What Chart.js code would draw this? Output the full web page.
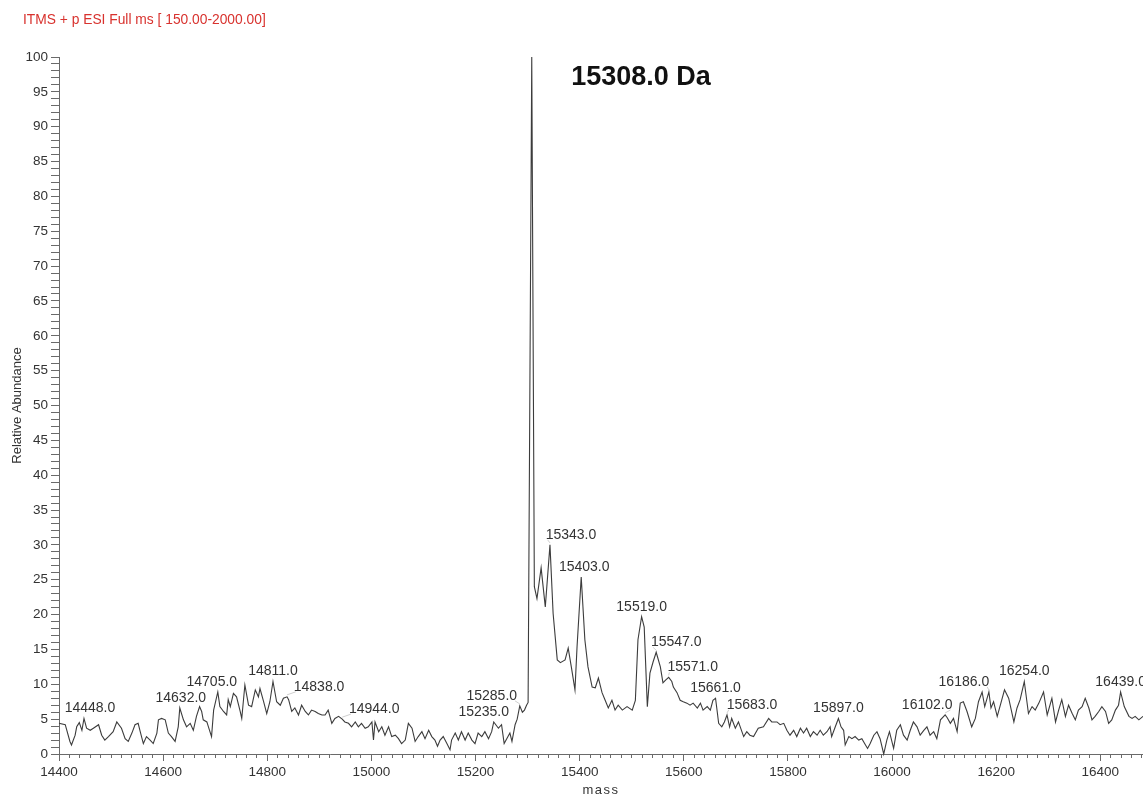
<!DOCTYPE html>
<html>
<head>
<meta charset="utf-8">
<title>Deconvoluted ESI mass spectrum</title>
<script src="https://cdn.jsdelivr.net/npm/chart.js@4/dist/chart.umd.min.js"></script>
<style>
  html, body { margin: 0; padding: 0; background: #ffffff; }
  canvas { display: block; }
</style>
</head>
<body>
<canvas id="spectrum" width="1143" height="797"></canvas>
<script>
// Deconvoluted spectrum: mass (Da) and relative abundance (%)
const massAxis = [
  14400, 14412, 14421, 14424, 14431, 14434, 14439, 14444, 14448, 14453,
  14460, 14466, 14476, 14482, 14488, 14495, 14504, 14511, 14520, 14527,
  14533, 14540, 14546, 14552, 14556, 14562, 14568, 14575, 14581, 14588,
  14591, 14597, 14604, 14610, 14616, 14623, 14629, 14632, 14639, 14645,
  14652, 14658, 14664, 14670, 14674, 14677, 14684, 14687, 14693, 14697,
  14705, 14709, 14716, 14722, 14725, 14729, 14735, 14741, 14748, 14751,
  14757, 14764, 14770, 14777, 14783, 14786, 14793, 14799, 14805, 14811,
  14818, 14825, 14831, 14838, 14841, 14847, 14853, 14860, 14866, 14873,
  14879, 14885, 14892, 14898, 14905, 14911, 14917, 14924, 14930, 14937,
  14944, 14949, 14956, 14962, 14969, 14975, 14981, 14988, 14994, 15001,
  15004, 15007, 15014, 15020, 15026, 15033, 15039, 15046, 15052, 15058,
  15065, 15071, 15078, 15084, 15090, 15097, 15103, 15110, 15116, 15122,
  15127, 15132, 15138, 15145, 15151, 15154, 15161, 15167, 15173, 15180,
  15186, 15193, 15199, 15205, 15212, 15218, 15225, 15231, 15235, 15244,
  15250, 15255, 15260, 15266, 15270, 15276, 15280, 15285, 15290, 15294,
  15298, 15301, 15308, 15313, 15318, 15326, 15334, 15343, 15349, 15357,
  15363, 15372, 15378, 15384, 15391, 15395, 15403, 15410, 15416, 15424,
  15430, 15436, 15443, 15449, 15455, 15462, 15468, 15474, 15482, 15491,
  15501, 15507, 15512, 15519, 15524, 15530, 15535, 15541, 15547, 15555,
  15560, 15565, 15571, 15577, 15580, 15587, 15593, 15599, 15606, 15612,
  15618, 15626, 15632, 15637, 15645, 15651, 15656, 15661, 15667, 15673,
  15678, 15683, 15688, 15692, 15699, 15705, 15715, 15721, 15727, 15734,
  15743, 15753, 15763, 15769, 15779, 15785, 15792, 15798, 15804, 15811,
  15817, 15824, 15830, 15836, 15843, 15849, 15856, 15862, 15868, 15875,
  15881, 15884, 15891, 15897, 15902, 15907, 15910, 15917, 15923, 15929,
  15936, 15942, 15949, 15953, 15958, 15965, 15971, 15977, 15984, 15990,
  15995, 16003, 16009, 16016, 16022, 16029, 16035, 16041, 16048, 16054,
  16061, 16067, 16073, 16080, 16086, 16093, 16102, 16106, 16112, 16118,
  16125, 16131, 16137, 16144, 16153, 16160, 16166, 16173, 16178, 16186,
  16190, 16195, 16202, 16208, 16216, 16224, 16234, 16240, 16246, 16254,
  16262, 16269, 16275, 16282, 16291, 16298, 16307, 16314, 16320, 16326,
  16333, 16339, 16346, 16352, 16358, 16365, 16371, 16378, 16384, 16390,
  16397, 16403, 16410, 16416, 16422, 16429, 16435, 16439, 16446, 16455,
  16461, 16467, 16474, 16482
];

const abundance = [
  4.4, 4.2, 1.8, 1.3, 2.7, 3.9, 4.5, 3.4, 5.1, 3.7,
  3.4, 3.7, 4.2, 2.7, 2.0, 2.5, 3.2, 4.6, 3.7, 2.2,
  1.8, 3.0, 4.2, 4.4, 3.2, 1.5, 2.5, 2.0, 1.5, 3.0,
  4.9, 5.1, 4.9, 3.0, 2.5, 1.8, 3.9, 6.6, 4.9, 3.9,
  4.4, 3.4, 5.4, 6.8, 6.1, 4.9, 4.6, 3.9, 2.5, 6.3,
  8.9, 6.8, 6.1, 5.6, 7.8, 6.8, 8.7, 8.2, 6.1, 5.1,
  9.9, 7.0, 6.8, 9.2, 8.2, 9.4, 7.5, 5.8, 7.5, 10.4,
  7.5, 7.0, 8.0, 8.2, 7.8, 6.1, 6.6, 5.6, 7.0, 6.1,
  5.6, 6.3, 6.1, 5.8, 5.6, 5.6, 6.3, 4.4, 5.1, 5.4,
  5.0, 4.6, 4.4, 3.9, 4.6, 3.9, 4.4, 3.7, 3.9, 4.6,
  2.0, 4.6, 3.2, 3.9, 2.7, 3.9, 2.5, 2.7, 2.2, 1.5,
  2.0, 4.4, 3.7, 1.8, 2.5, 3.2, 2.2, 3.4, 2.5, 2.0,
  1.1, 2.0, 2.5, 1.5, 0.6, 2.0, 3.0, 2.0, 3.2, 2.0,
  3.0, 2.0, 1.5, 3.0, 2.5, 3.2, 2.2, 3.2, 4.6, 3.7,
  4.2, 1.5, 2.2, 3.0, 1.8, 4.2, 5.0, 6.9, 6.0, 6.3,
  7.0, 7.4, 100.0, 24.0, 22.3, 26.7, 21.1, 30.0, 20.2, 13.5,
  13.1, 13.5, 15.2, 12.5, 9.2, 15.4, 25.4, 16.4, 12.5, 9.6,
  9.5, 10.9, 8.8, 7.7, 6.6, 7.7, 6.3, 7.0, 6.3, 6.8,
  6.3, 7.7, 16.4, 19.7, 18.2, 6.8, 11.6, 13.2, 14.6, 12.5,
  10.2, 10.6, 11.0, 10.4, 9.6, 8.8, 7.7, 7.5, 7.3, 7.0,
  7.3, 6.6, 7.3, 6.3, 6.8, 6.3, 7.7, 8.0, 4.4, 3.9,
  4.6, 5.6, 3.9, 5.1, 3.7, 4.6, 2.5, 3.2, 2.7, 2.5,
  3.7, 3.9, 5.1, 4.6, 4.6, 4.2, 4.4, 3.4, 2.7, 3.4,
  2.5, 3.7, 3.0, 3.7, 2.5, 3.2, 2.7, 3.4, 2.7, 3.2,
  3.9, 2.5, 3.9, 5.1, 3.9, 3.4, 1.3, 2.5, 2.2, 2.5,
  2.0, 2.2, 1.3, 0.8, 1.5, 2.7, 3.2, 2.2, 0.0, 2.0,
  3.2, 0.8, 3.4, 4.2, 2.7, 2.0, 3.4, 4.6, 3.9, 2.7,
  3.4, 3.9, 2.7, 3.2, 2.2, 4.9, 5.6, 5.2, 4.4, 5.1,
  3.2, 7.3, 7.5, 6.1, 3.9, 5.1, 7.5, 8.9, 6.8, 8.9,
  6.6, 7.5, 5.4, 7.0, 9.2, 8.0, 4.6, 6.6, 7.8, 10.4,
  5.8, 6.8, 6.3, 7.3, 8.9, 5.6, 8.0, 4.6, 6.3, 7.8,
  5.4, 7.0, 5.8, 4.9, 6.3, 6.8, 8.0, 6.6, 4.9, 5.4,
  6.1, 6.8, 6.1, 4.4, 4.9, 6.3, 7.0, 8.9, 6.8, 5.4,
  5.1, 5.4, 4.9, 5.4
];

// Annotated peaks (mass values printed above the trace)
const peakMasses = [
  14448, 14632, 14705, 14811, 14838, 14944, 15235, 15285, 15343, 15403,
  15519, 15547, 15571, 15661, 15683, 15897, 16102, 16186, 16254, 16439
];

// Axis tick labels
const massTickLabels = [14400, 14600, 14800, 15000, 15200, 15400, 15600, 15800, 16000, 16200, 16400];
const abundanceTickLabels = [0, 5, 10, 15, 20, 25, 30, 35, 40, 45, 50, 55, 60, 65, 70, 75, 80, 85, 90, 95, 100];

const headerText = 'ITMS + p ESI Full ms [ 150.00-2000.00]';
const deconvolutedMass = '15308.0 Da';

const FONT = "'Liberation Sans', Arial, Helvetica, sans-serif";
const AXIS_GREY = '#6a6a6a';
const TEXT_DARK = '#333333';

// Horizontal shift (px) of labels that sit beside their peak
const labelShift = {
  14448: 6, 14632: 1, 14705: -6, 14838: 32, 14944: 32, 15235: -10, 15285: -28,
  15343: 21, 15403: 3, 15547: 20, 15571: 24, 15683: 25, 16102: -18, 16186: -25
};

const spectrumText = {
  id: 'spectrumText',
  afterDatasetsDraw(chart) {
    const ctx = chart.ctx;
    const xs = chart.scales.x;
    const ys = chart.scales.y;
    ctx.save();

    // peak mass labels
    ctx.font = `14px ${FONT}`;
    ctx.textAlign = 'center';
    ctx.textBaseline = 'middle';
    peakMasses.forEach(m => {
      const v = abundance[massAxis.indexOf(m)];
      const px = xs.getPixelForValue(m);
      const py = ys.getPixelForValue(v);
      const dx = labelShift[m] || 0;
      const lx = px + dx;
      const ly = py - 10;
      const text = m.toFixed(1);
      if (Math.abs(dx) > 15) {
        const w = ctx.measureText(text).width;
        const edge = dx > 0 ? lx - w / 2 + 2 : lx + w / 2 - 2;
        ctx.strokeStyle = '#cfcfcf';
        ctx.lineWidth = 1;
        ctx.beginPath();
        ctx.moveTo(px, py - 2);
        ctx.lineTo(edge, ly + 5);
        ctx.stroke();
      }
      ctx.fillStyle = TEXT_DARK;
      ctx.fillText(text, lx, ly);
    });

    // axis titles
    ctx.fillStyle = TEXT_DARK;
    ctx.font = `13px ${FONT}`;
    ctx.letterSpacing = '1.5px';
    ctx.textAlign = 'center';
    ctx.fillText('mass', (chart.chartArea.left + chart.chartArea.right) / 2, 790);
    ctx.letterSpacing = '0px';
    ctx.save();
    ctx.translate(17, (chart.chartArea.top + chart.chartArea.bottom) / 2);
    ctx.rotate(-Math.PI / 2);
    ctx.font = `13px ${FONT}`;
    ctx.fillText('Relative Abundance', 0, 0);
    ctx.restore();

    // scan header
    ctx.font = `13.8px ${FONT}`;
    ctx.fillStyle = '#d8322e';
    ctx.textAlign = 'left';
    ctx.fillText(headerText, 23, 20);

    // deconvoluted mass annotation
    ctx.font = `bold 27px ${FONT}`;
    ctx.fillStyle = '#111111';
    ctx.textAlign = 'center';
    ctx.fillText(deconvolutedMass, 641, 78);

    ctx.restore();
  }
};

new Chart(document.getElementById('spectrum'), {
  type: 'line',
  data: {
    datasets: [{
      data: massAxis.map((m, i) => ({ x: m, y: abundance[i] })),
      borderColor: '#3c3c3c',
      borderWidth: 1.1,
      pointRadius: 0,
      tension: 0,
      fill: false,
      clip: 4,
      xAxisID: 'x',
      yAxisID: 'y'
    }]
  },
  options: {
    responsive: false,
    devicePixelRatio: 1,
    animation: false,
    events: [],
    layout: { padding: { top: 57, right: 0, bottom: 0, left: 0 } },
    plugins: { legend: { display: false }, tooltip: { enabled: false }, title: { display: false } },
    scales: {
      x: {
        type: 'linear',
        position: 'bottom',
        min: 14400,
        max: 16482,
        weight: 1,
        afterFit(s) { s.height = 43; },
        border: { display: true, color: AXIS_GREY, width: 1 },
        grid: { drawOnChartArea: false, drawTicks: true, tickLength: 7, tickColor: AXIS_GREY },
        ticks: {
          stepSize: 200,
          includeBounds: false,
          autoSkip: false,
          maxRotation: 0,
          padding: 3,
          color: TEXT_DARK,
          font: { family: FONT, size: 13.5 },
          callback: v => massTickLabels.includes(v) ? String(v) : ''
        }
      },
      xMinor: {
        type: 'linear',
        position: 'bottom',
        min: 14400,
        max: 16482,
        weight: 0,
        afterFit(s) { s.height = 0; },
        border: { display: false },
        grid: { drawOnChartArea: false, drawTicks: true, tickLength: 4, tickColor: AXIS_GREY },
        ticks: { display: false, stepSize: 20, includeBounds: false, autoSkip: false }
      },
      y: {
        type: 'linear',
        position: 'left',
        min: 0,
        max: 100,
        afterFit(s) { s.width = 59; },
        border: { display: true, color: AXIS_GREY, width: 1 },
        grid: { drawOnChartArea: false, drawTicks: true, tickLength: 8, tickColor: AXIS_GREY },
        ticks: {
          stepSize: 1,
          autoSkip: false,
          includeBounds: false,
          padding: 3,
          color: TEXT_DARK,
          font: { family: FONT, size: 13.5 },
          callback: v => abundanceTickLabels.includes(v) ? String(v) : ''
        }
      }
    }
  },
  plugins: [spectrumText]
});
</script>
</body>
</html>
